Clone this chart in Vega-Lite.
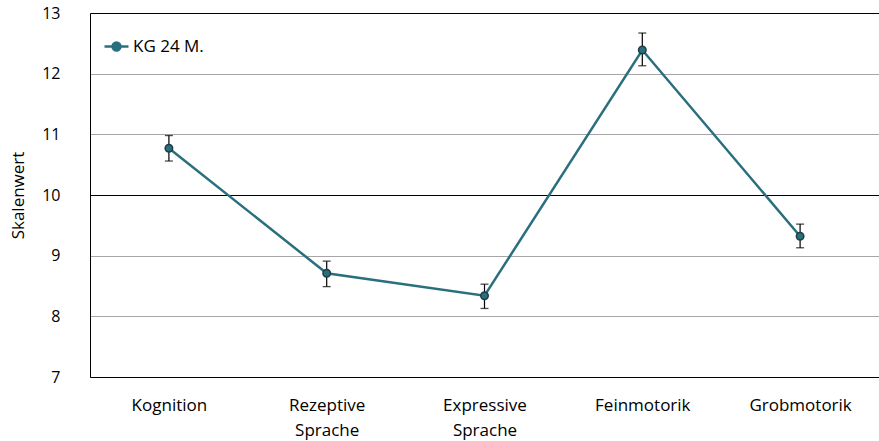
{
  "$schema": "https://vega.github.io/schema/vega-lite/v6.json",
  "autosize": {"type": "none"},
  "width": 789,
  "height": 364,
  "padding": {"left": 90, "top": 13, "right": 0, "bottom": 64},
  "background": "white",
  "config": {
    "view": {"stroke": null},
    "font": "Open Sans",
    "axis": {"labelFont": "Open Sans", "titleFont": "Open Sans", "labelColor": "#000000", "titleColor": "#000000"}
  },
  "data": {
    "values": [
      {"domain": "Kognition", "mean": 10.77, "lo": 10.56, "hi": 10.98, "series": "KG 24 M."},
      {"domain": "Rezeptive Sprache", "mean": 8.71, "lo": 8.49, "hi": 8.91, "series": "KG 24 M."},
      {"domain": "Expressive Sprache", "mean": 8.34, "lo": 8.13, "hi": 8.53, "series": "KG 24 M."},
      {"domain": "Feinmotorik", "mean": 12.39, "lo": 12.13, "hi": 12.67, "series": "KG 24 M."},
      {"domain": "Grobmotorik", "mean": 9.32, "lo": 9.13, "hi": 9.52, "series": "KG 24 M."}
    ]
  },
  "encoding": {
    "x": {
      "field": "domain",
      "type": "nominal",
      "sort": null,
      "scale": {"type": "point", "padding": 0.5},
      "axis": {
        "title": null,
        "labelAngle": 0,
        "ticks": false,
        "grid": false,
        "domainColor": "#000000",
        "domainWidth": 1,
        "labelFontSize": 17,
        "labelPadding": 20,
        "labelLineHeight": 25,
        "labelExpr": "split(datum.label, ' ')"
      }
    }
  },
  "layer": [
    {
      "mark": {"type": "rule", "color": "#000000", "strokeWidth": 1.2},
      "encoding": {
        "y": {"field": "lo", "type": "quantitative"},
        "y2": {"field": "hi"}
      }
    },
    {
      "mark": {"type": "tick", "color": "#000000", "size": 8, "thickness": 1.3, "orient": "horizontal"},
      "encoding": {"y": {"field": "lo", "type": "quantitative"}}
    },
    {
      "mark": {"type": "tick", "color": "#000000", "size": 8, "thickness": 1.3, "orient": "horizontal"},
      "encoding": {"y": {"field": "hi", "type": "quantitative"}}
    },
    {
      "mark": {"type": "line", "strokeWidth": 2.5},
      "encoding": {
        "y": {
          "field": "mean",
          "type": "quantitative",
          "scale": {"domain": [7, 13], "nice": false, "zero": false},
          "axis": {
            "title": "Skalenwert",
            "titleFontSize": 17,
            "titleFontWeight": "normal",
            "titleX": -72,
            "titleY": 182,
            "titleAngle": -90,
            "titleAlign": "center",
            "titleBaseline": "middle",
            "values": [7, 8, 9, 10, 11, 12, 13],
            "format": "d",
            "ticks": false,
            "labelFontSize": 16,
            "labelPadding": 30,
            "domainColor": "#000000",
            "domainWidth": 1,
            "grid": true,
            "gridColor": {"condition": {"test": "datum.value === 10 || datum.value === 13", "value": "#000000"}, "value": "#a6a6a6"},
            "gridWidth": 1
          }
        },
        "color": {
          "field": "series",
          "type": "nominal",
          "scale": {"range": ["#2a6f7d"]},
          "legend": {
            "title": null,
            "orient": "none",
            "legendX": 13,
            "legendY": 20,
            "padding": 0,
            "labelFontSize": 17,
            "labelFont": "Open Sans",
            "labelColor": "#000000",
            "labelOffset": 3,
            "symbolType": "M-1,0L-0.33,0M0.33,0L1,0M-0.33,0A0.33,0.33 0 1,0 0.33,0A0.33,0.33 0 1,0 -0.33,0Z",
            "symbolSize": 576,
            "symbolStrokeWidth": 2.5,
            "symbolFillColor": "#2a6f7d",
            "symbolStrokeColor": "#2a6f7d"
          }
        }
      }
    },
    {
      "mark": {"type": "point", "filled": true, "size": 56, "fill": "#2a6f7d", "stroke": "#1e3d44", "strokeWidth": 1.5, "opacity": 1},
      "encoding": {"y": {"field": "mean", "type": "quantitative"}}
    }
  ]
}
